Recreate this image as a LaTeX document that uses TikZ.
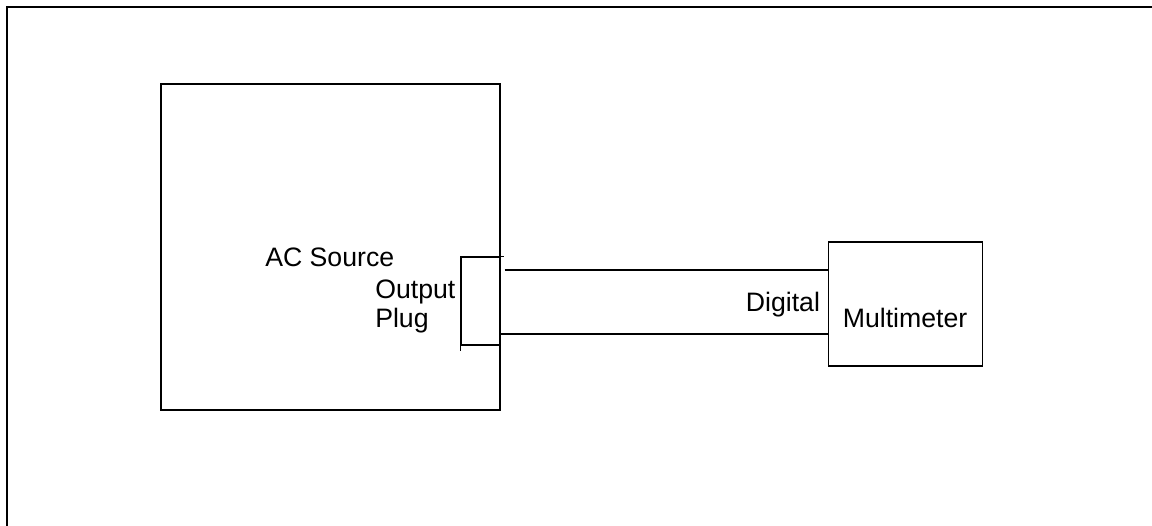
\documentclass[tikz,border=0pt]{standalone}
\usepackage{fontspec}
\setmainfont{Liberation Sans}
\usepackage{tikz}
\usetikzlibrary{positioning}

\begin{document}
\begin{tikzpicture}[x=0.75pt,y=-0.75pt]
\tikzstyle{box}=[rectangle, draw=black!100, line width=0.8pt, inner sep=0pt]
\tikzstyle{wire}=[line width=0.8pt]
\tikzstyle{txt}=[inner sep=0pt, font=\fontsize{20}{24}\selectfont]
\tikzstyle{frame}=[line width=1.5pt]
  \useasboundingbox (0,0) rectangle (1152,525);
  \draw[frame] (1160,7) -- (7,7) -- (7,535);

  \node[box, minimum width=254.25pt, minimum height=244.5pt] (source) at (330.5,247) {};
  \node[box, minimum width=29.25pt, minimum height=66pt, anchor=east] (plug) at ([yshift=-40.5pt]source.east) {};
  \node[box, minimum width=115.5pt, minimum height=93pt] (meter) [right=245.25pt of plug.east, yshift=-2.25pt] {};

  \node[txt, anchor=base west] (srclabel) at (265,266) {AC Source};
  \node[txt, anchor=base west] (outlabel) at (375,298) {Output};
  \node[txt, anchor=base west] (pluglabel) at (375,327) {Plug};
  \node[txt, anchor=base east] (digilabel) at ([xshift=-5.5pt,yshift=-5.25pt]meter.west) {Digital};
  \node[txt, anchor=base] (meterlabel) at ([yshift=-17.25pt]meter.center) {Multimeter};

  \draw[wire] (plug.north east) -- ++(3,0);
  \draw[wire] (plug.south west) -- ++(0,5);
  \draw[wire] ([xshift=3pt,yshift=23.25pt]plug.east) coordinate (w1) -- (w1 -| meter.west);
  \draw[wire] ([yshift=-24.75pt]plug.east) coordinate (w2) -- (w2 -| meter.west);
\end{tikzpicture}
\end{document}
